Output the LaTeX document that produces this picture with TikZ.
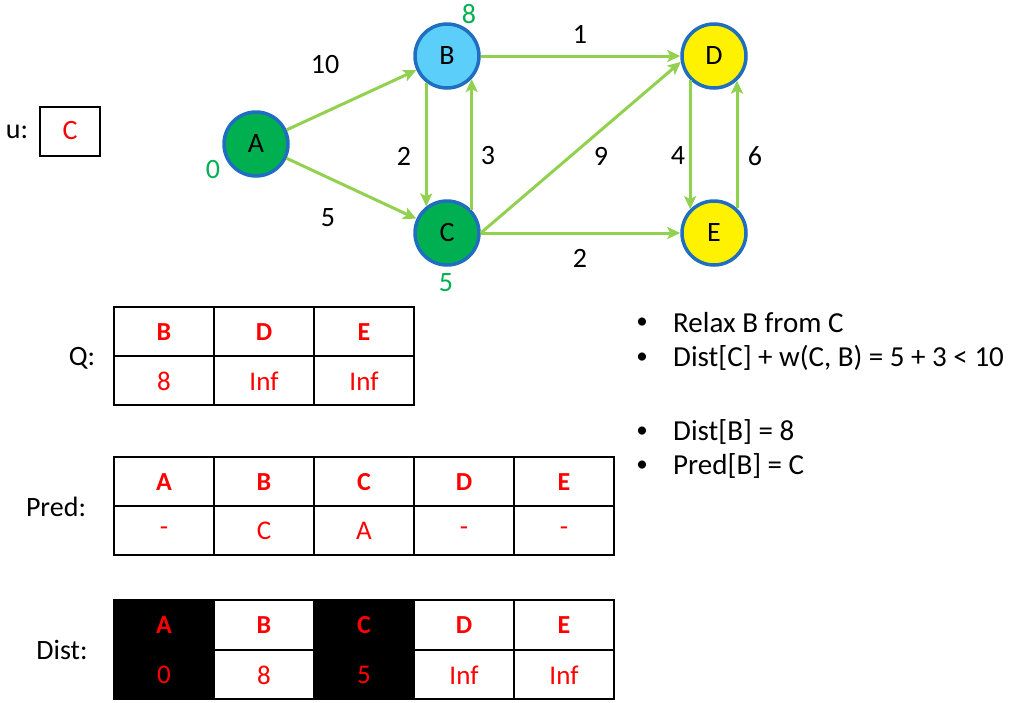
\documentclass[tikz,border=0pt]{standalone}
\usepackage{fontspec}
\setmainfont{Carlito}
\usetikzlibrary{arrows.meta}
\definecolor{edgegreen}{HTML}{92D050}
\definecolor{nodegreen}{HTML}{00B050}
\definecolor{nodeblue}{HTML}{5BCEFA}
\definecolor{ringblue}{HTML}{1F6EC0}
\newcommand{\fs}[1]{\fontsize{#1}{#1}\selectfont}
\begin{document}
\begin{tikzpicture}[x=1pt,y=-1pt,
	vertex/.style={circle,draw=ringblue,line width=3.5pt,minimum size=64pt,inner sep=0pt,font=\fs{28}},
	edge/.style={draw=edgegreen,line width=3pt,-{Stealth[length=13pt,width=12pt,inset=3pt]}},
	wlabel/.style={font=\fs{28}},
	dlabel/.style={text=nodegreen,font=\fs{28}},
	grid/.style={line width=2pt},
	head/.style={text=red,font=\fs{26}\bfseries},
	cell/.style={text=red,font=\fs{27}},
	side/.style={font=\fs{28}},
	bullet/.style={font=\fs{29}}]
	\useasboundingbox (0,0) rectangle (1020,702);
	% graph
	\node[vertex,fill=nodegreen] (A) at (256,144) {A};
	\node[vertex,fill=nodeblue] (B) at (447,56) {B};
	\node[vertex,fill=nodegreen] (C) at (447,233) {C};
	\node[vertex,fill=yellow] (D) at (714,56) {D};
	\node[vertex,fill=yellow] (E) at (714,233) {E};
	\draw[edge] (A) -- (B);
	\draw[edge] (A) -- (C);
	\draw[edge] (B.232) -- (C.128);
	\draw[edge] (C.43) -- (B.317);
	\draw[edge] (B) -- (D);
	\draw[edge] (C.east) -- (D.190);
	\draw[edge] (C) -- (E);
	\draw[edge] (D.225) -- (E.135);
	\draw[edge] (E.47) -- (D.313);
	\node[wlabel] (wAB) at (325,65) {10};
	\node[wlabel] (wAC) at (328,218) {5};
	\node[wlabel] (wBC) at (404,156) {2};
	\node[wlabel] (wCB) at (488,156) {3};
	\node[wlabel] (wBD) at (580,34) {1};
	\node[wlabel] (wCD) at (601,156) {9};
	\node[wlabel] (wDE) at (678,156) {4};
	\node[wlabel] (wED) at (755,156) {6};
	\node[wlabel] (wCE) at (580,258) {2};
	\node[dlabel] (dA) at (213,170) {0};
	\node[dlabel] (dB) at (469,14) {8};
	\node[dlabel] (dC) at (446,283) {5};
	% current vertex
	\node[side] (ulabel) at (17,132) {u:};
	\node[draw,grid,minimum width=60pt,minimum height=49pt,text=red,font=\fs{28}] (ubox) at (70,131) {C};
	% Q
	\node[side] (qlabel) at (82,358) {Q:};
	\draw[grid] (114,307) rectangle (414,405) (114,356) -- (414,356);
	\foreach \x in {214,314} \draw[grid] (\x,307) -- (\x,405);
	\foreach \h/\v [count=\i] in {B/8,D/Inf,E/Inf} {
		\node[head] (qh\i) at (64+100*\i,332) {\h};
		\node[cell] (qv\i) at (64+100*\i,381) {\v};
	}
	% Pred
	\node[side] (plabel) at (56,507) {Pred:};
	\draw[grid] (114,457) rectangle (614,555) (114,506) -- (614,506);
	\foreach \x in {214,314,414,514} \draw[grid] (\x,457) -- (\x,555);
	\foreach \h/\v [count=\i] in {A/-,B/C,C/A,D/-,E/-} {
		\node[head] (ph\i) at (64+100*\i,482) {\h};
		\node[cell] (pv\i) at (64+100*\i,531) {\v};
	}
	% Dist
	\node[side] (dlabel) at (62,650) {Dist:};
	\fill (114,600) rectangle (214,699) (314,600) rectangle (414,699);
	\draw[grid] (114,600) rectangle (614,699) (114,650) -- (614,650);
	\foreach \x in {214,314,414,514} \draw[grid] (\x,600) -- (\x,699);
	\foreach \h/\v [count=\i] in {A/0,B/8,C/5,D/Inf,E/Inf} {
		\node[head] (dh\i) at (64+100*\i,625) {\h};
		\node[cell] (dv\i) at (64+100*\i,675) {\v};
	}
	% notes
	\foreach \t/\y [count=\i] in {Relax B from C/323,{Dist[C] + w(C, B) = 5 + 3 < 10}/358,Dist[B] = 8/432,Pred[B] = C/466} {
		\node[font=\fs{23}] (dot\i) at (642,\y) {•};
		\node[bullet,anchor=west,inner sep=0pt] (note\i) at (673,\y) {\t};
	}
\end{tikzpicture}
\end{document}
